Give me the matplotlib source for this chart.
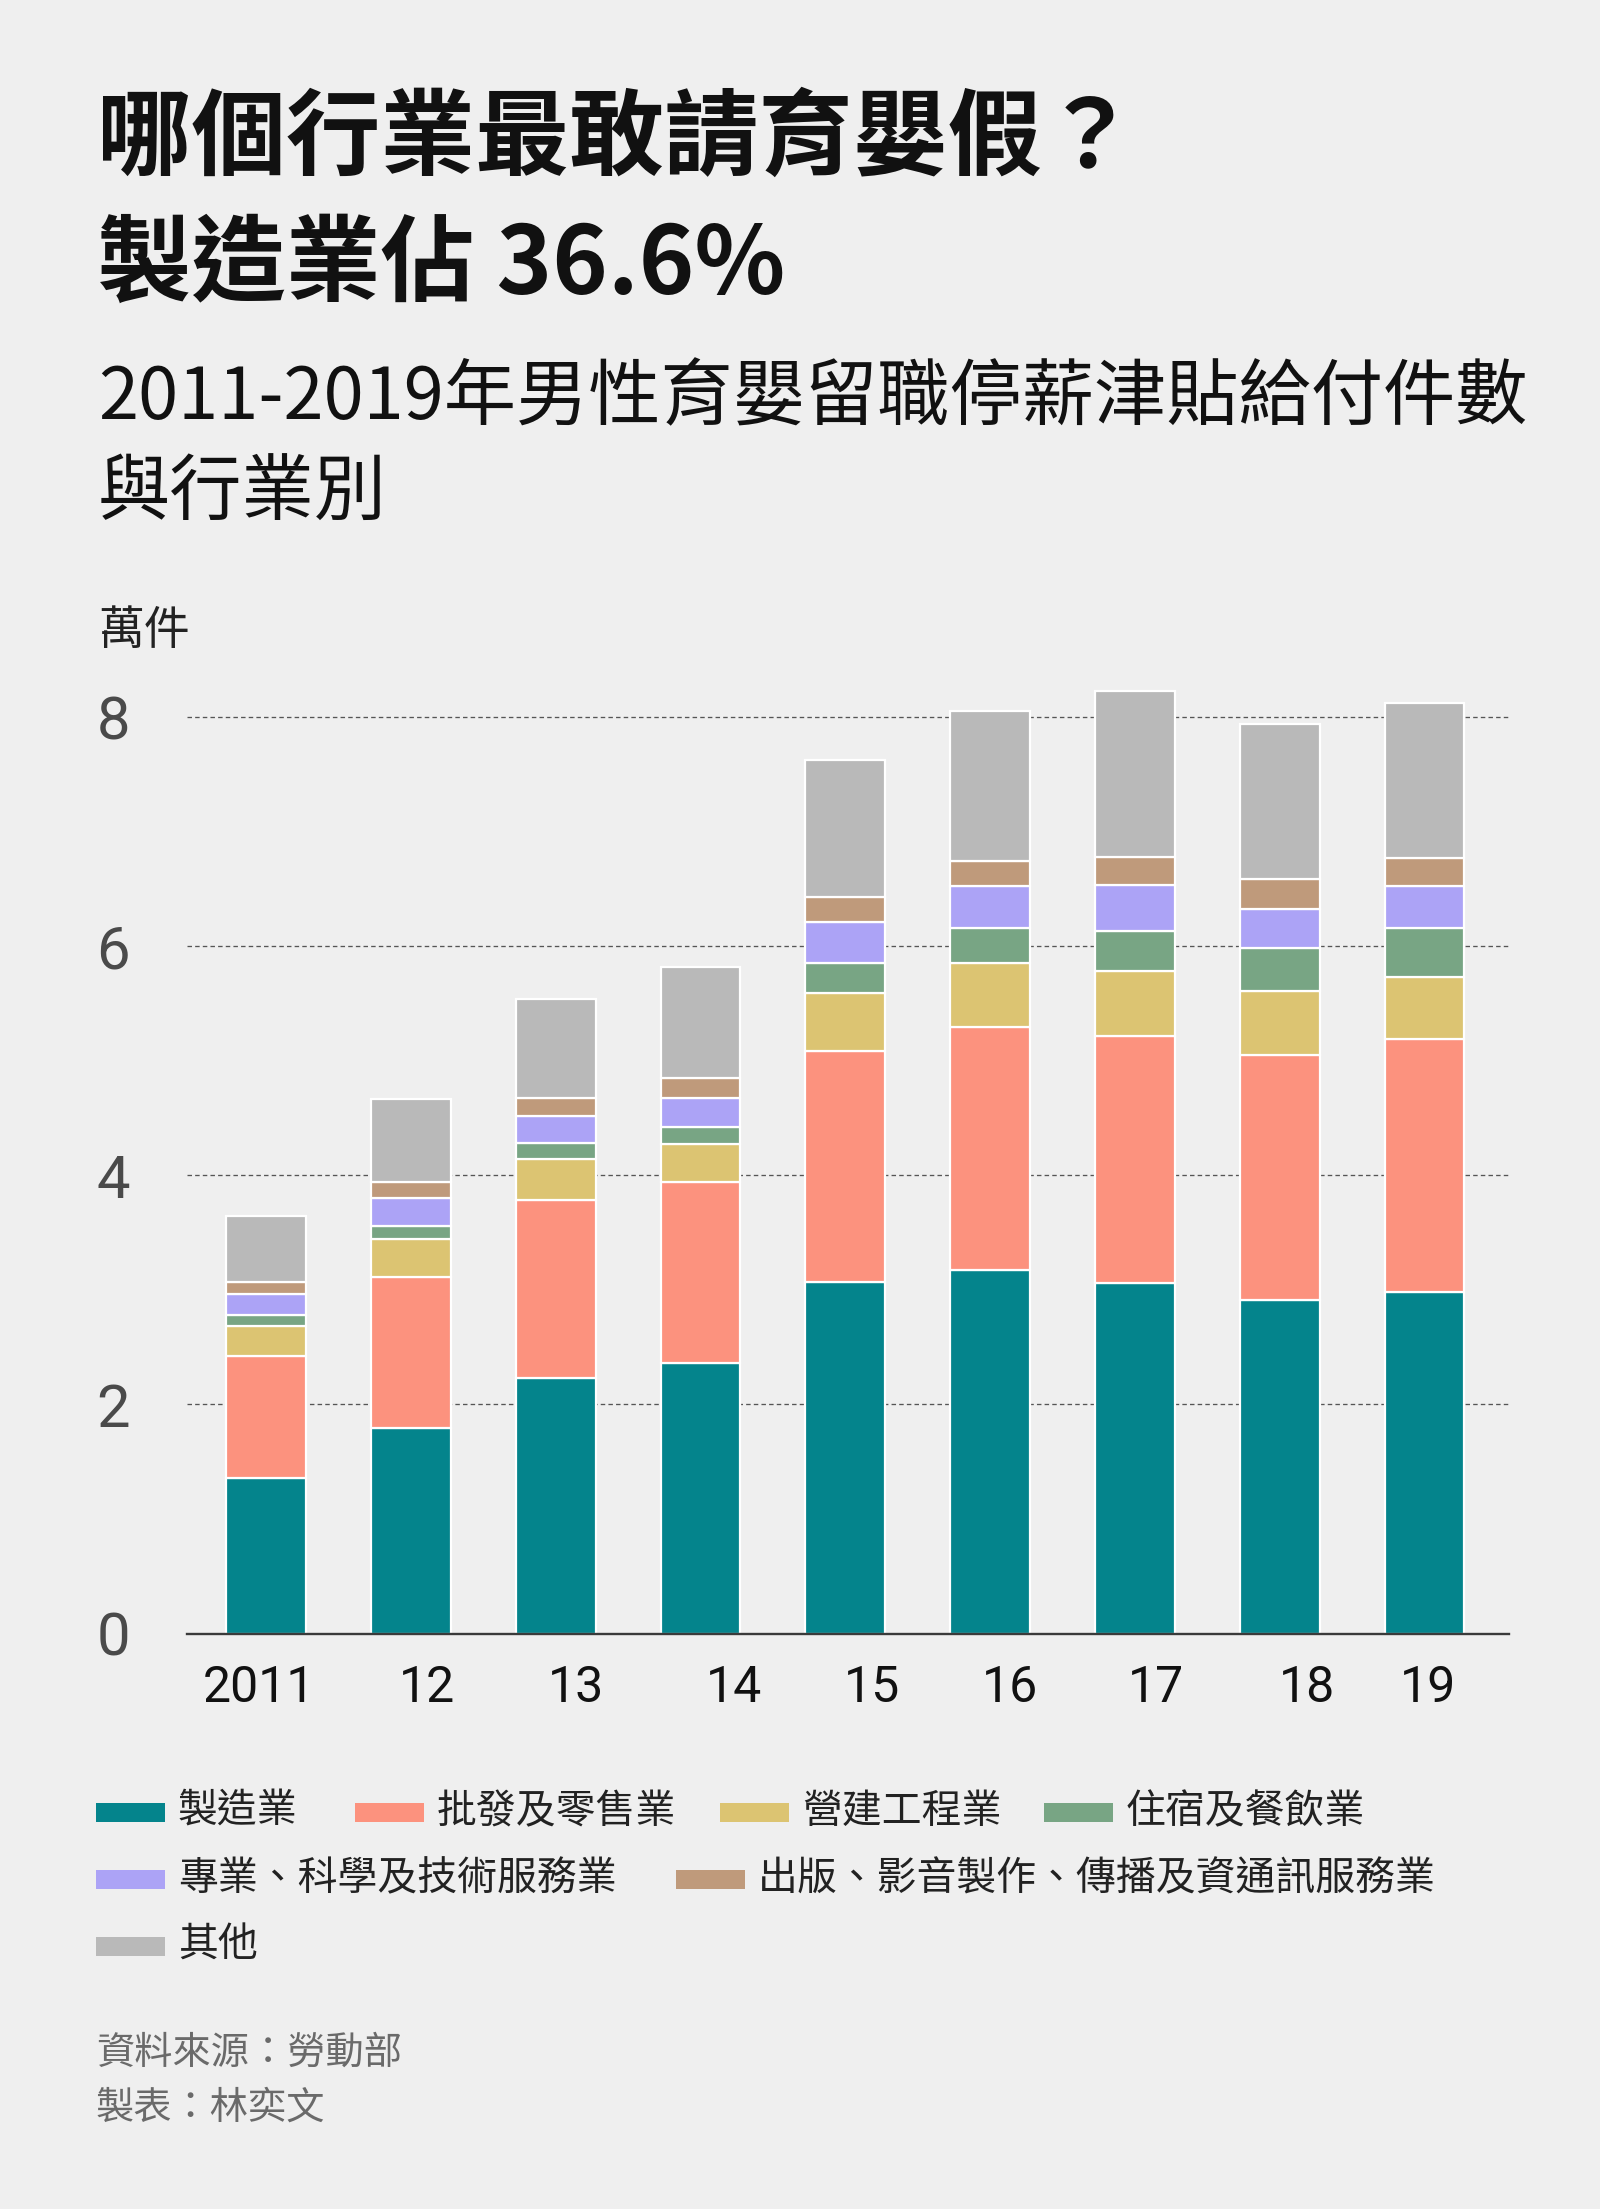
import matplotlib
matplotlib.use("Agg")
import matplotlib.pyplot as plt
from matplotlib.patches import Rectangle
from matplotlib.transforms import ScaledTranslation
import numpy as np

# ---------------- data (萬件) ----------------
years = ["2011", "12", "13", "14", "15", "16", "17", "18", "19"]
industries = ["製造業", "批發及零售業", "營建工程業", "住宿及餐飲業",
              "專業、科學及技術服務業", "出版、影音製作、傳播及資通訊服務業", "其他"]
manufacturing = [1.36, 1.79, 2.23, 2.36, 3.07, 3.17, 3.06, 2.91, 2.98]
wholesale_retail = [1.06, 1.32, 1.55, 1.58, 2.01, 2.12, 2.15, 2.14, 2.21]
construction = [0.26, 0.33, 0.36, 0.33, 0.51, 0.56, 0.57, 0.56, 0.54]
accommodation_food = [0.10, 0.12, 0.14, 0.15, 0.26, 0.31, 0.35, 0.37, 0.43]
professional = [0.18, 0.24, 0.24, 0.25, 0.36, 0.36, 0.40, 0.34, 0.36]
publishing_ict = [0.11, 0.14, 0.15, 0.18, 0.22, 0.22, 0.25, 0.26, 0.25]
other = [0.57, 0.72, 0.87, 0.97, 1.19, 1.31, 1.44, 1.36, 1.35]
y_ticks = [0, 2, 4, 6, 8]

# ---------------- style ----------------
colors = ["#04848c", "#fc927e", "#dcc472", "#78a584", "#aca3f6", "#bf9a7b", "#b9b9b9"]
BG = "#efefef"
CJK = ["Noto Sans CJK TC", "DejaVu Sans"]
NUM = ["Roboto", "Noto Sans CJK TC", "DejaVu Sans"]
label_nudge_px = [-7.5, 16.5, 20, 34, 27, 20, 21.5, 27.5, 3.5]

W, H = 1600, 2209
fig = plt.figure(figsize=(W / 100, H / 100), dpi=100, facecolor=BG)

def fx(px):
    return px / W

def fy(py):
    return 1 - py / H

# axes placement
ax_left, ax_right = 186.7, 1509.5
base_y, top_y = 1633.5, 1633.5 - 8.4 * 114.6
ax = fig.add_axes([fx(ax_left), fy(base_y), (ax_right - ax_left) / W, (base_y - top_y) / H])
ax.set_facecolor(BG)

series = [manufacturing, wholesale_retail, construction, accommodation_food,
          professional, publishing_ict, other]
x = np.arange(len(years))
bottom = np.zeros(len(years))
for vals, c, name in zip(series, colors, industries):
    ax.bar(x, vals, width=0.552, bottom=bottom, color=c, edgecolor="white",
           linewidth=1.6, zorder=3, label=name)
    bottom = bottom + np.array(vals)

ax.set_xlim(-0.548, 8.587)
ax.set_ylim(0, 8.4)

# grid
for yv in y_ticks[1:]:
    ax.axhline(yv, color="#555555", linewidth=0.95, dashes=(3.4, 2.4), zorder=1)

for s in ["top", "right", "left"]:
    ax.spines[s].set_visible(False)
ax.spines["bottom"].set_color("#3a3a3a")
ax.spines["bottom"].set_linewidth(1.7)
ax.spines["bottom"].set_zorder(5)

ax.set_yticks(y_ticks)
ax.set_yticklabels([str(v) for v in y_ticks])
ax.tick_params(axis="y", length=0, pad=41, labelsize=43, labelcolor="#4a4a4a")
for lab in ax.get_yticklabels():
    lab.set_fontfamily(NUM)

ax.set_xticks(x)
ax.set_xticklabels(years)
ax.tick_params(axis="x", length=0, pad=22, labelsize=36, labelcolor="#111111")
for lab, dx in zip(ax.get_xticklabels(), label_nudge_px):
    lab.set_fontfamily(NUM)
    lab.set_transform(lab.get_transform() + ScaledTranslation(dx / 100, 0, fig.dpi_scale_trans))

# ---------------- titles ----------------
fig.text(fx(97), fy(140), "哪個行業最敢請育嬰假？", fontsize=68, fontweight="bold",
         family=CJK, color="#111111", va="center", ha="left")
fig.text(fx(97), fy(266), "製造業佔 36.6%", fontsize=68, fontweight="bold",
         family=CJK, color="#111111", va="center", ha="left")
fig.text(fx(98), fy(399), "2011-2019年男性育嬰留職停薪津貼給付件數", fontsize=52,
         family=CJK, color="#111111", va="center", ha="left")
fig.text(fx(98), fy(494), "與行業別", fontsize=52,
         family=CJK, color="#111111", va="center", ha="left")
fig.text(fx(98), fy(631), "萬件", fontsize=33, family=CJK, color="#222222",
         va="center", ha="left")

# ---------------- legend ----------------
legend_pos = [(96, 1812), (355, 1812), (720, 1812), (1044, 1812),
              (96, 1879), (676, 1879), (96, 1946)]
for (px, py), c, name in zip(legend_pos, colors, industries):
    fig.patches.append(Rectangle((fx(px), fy(py + 9.5)), 69 / W, 19 / H,
                                 transform=fig.transFigure, facecolor=c,
                                 edgecolor="none"))
    fig.text(fx(px + 82), fy(py), name, fontsize=28.7, family=CJK, color="#222222",
             va="center", ha="left")

# ---------------- footer ----------------
fig.text(fx(96), fy(2053), "資料來源：勞動部", fontsize=27.5, family=CJK,
         color="#6a6a6a", va="center", ha="left")
fig.text(fx(96), fy(2108), "製表：林奕文", fontsize=27.5, family=CJK,
         color="#6a6a6a", va="center", ha="left")

fig.savefig("out.png", dpi=100, facecolor=BG)
